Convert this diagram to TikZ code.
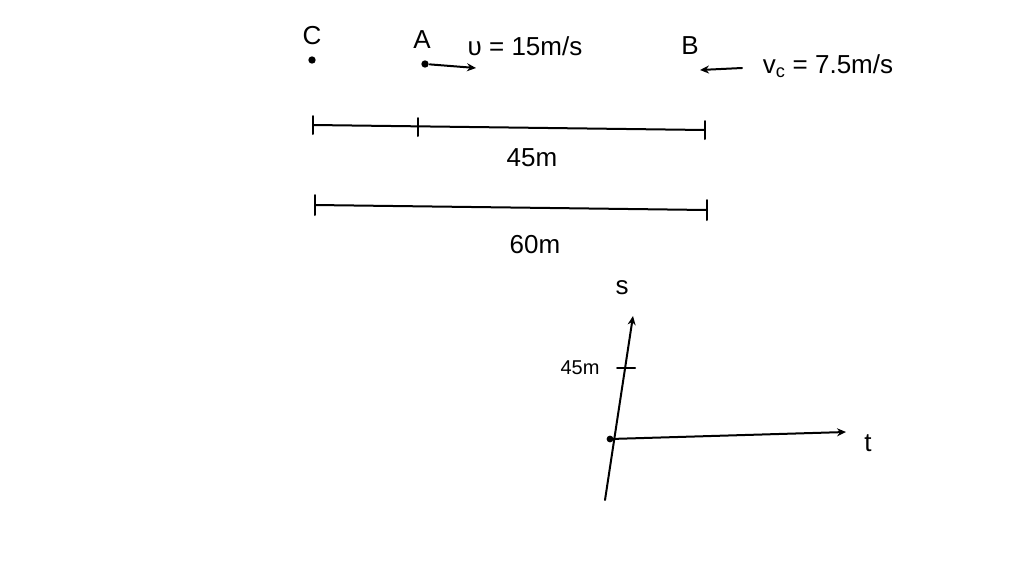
\documentclass[tikz,border=0pt]{standalone}
\usepackage{fontspec}
\setmainfont{Liberation Sans}
\usetikzlibrary{arrows.meta}
\begin{document}
\begin{tikzpicture}[x=1pt,y=-1pt,line width=2pt,line cap=round,
  lbl/.style={font=\fontsize{26}{28}\selectfont},
  dotn/.style={circle,fill,inner sep=2.6pt},
  arr/.style={-{Stealth[length=9pt,width=8pt]}}]
\useasboundingbox (0,0) rectangle (1024,576);
% top labels
\node[lbl] (C) at (312,36) {C};
\node[dotn] (c) at (312,60) {};
\node[lbl] (A) at (422,40) {A};
\node[dotn] (a) at (425,64) {};
\coordinate (ae) at (476,68);
\draw[arr] (a) -- (ae);
\node[lbl] (u) at (525,46) {υ = 15m/s};
\node[lbl] (B) at (690,46) {B};
\coordinate (bs) at (742,68);
\coordinate (be) at (700,70);
\draw[arr] (bs) -- (be);
\node[lbl] (vc) at (828,66) {v\textsubscript{c} = 7.5m/s};
% line 1
\coordinate (l1a) at (313,125);
\coordinate (l1m) at (418,127);
\coordinate (l1b) at (705,130);
\draw (l1a) -- (l1b);
\foreach \p in {l1a,l1m,l1b} \draw ([yshift=-9]\p) -- ([yshift=9]\p);
\node[lbl] (d45) at (532,158) {45m};
% line 2
\coordinate (l2a) at (315,205);
\coordinate (l2b) at (707,210);
\draw (l2a) -- (l2b);
\foreach \p in {l2a,l2b} \draw ([yshift=-10]\p) -- ([yshift=10]\p);
\node[lbl] (d60) at (535,245) {60m};
% axes
\coordinate (o) at (610,439);
\coordinate (yb) at (605,500);
\coordinate (yt) at (633,316);
\coordinate (xe) at (846,432);
\draw[arr] (yb) -- (yt);
\draw[arr] (o) -- (xe);
\node[dotn,inner sep=2.4pt] (on) at (o) {};
\node[lbl] (s) at (622,288) {s};
\node[lbl] (t) at (868,443) {t};
\coordinate (tk) at (625,368);
\draw ([xshift=-8]tk) -- ([xshift=10]tk);
\node[font=\fontsize{20}{22}\selectfont] (l45) at (580,368) {45m};
\end{tikzpicture}
\end{document}
